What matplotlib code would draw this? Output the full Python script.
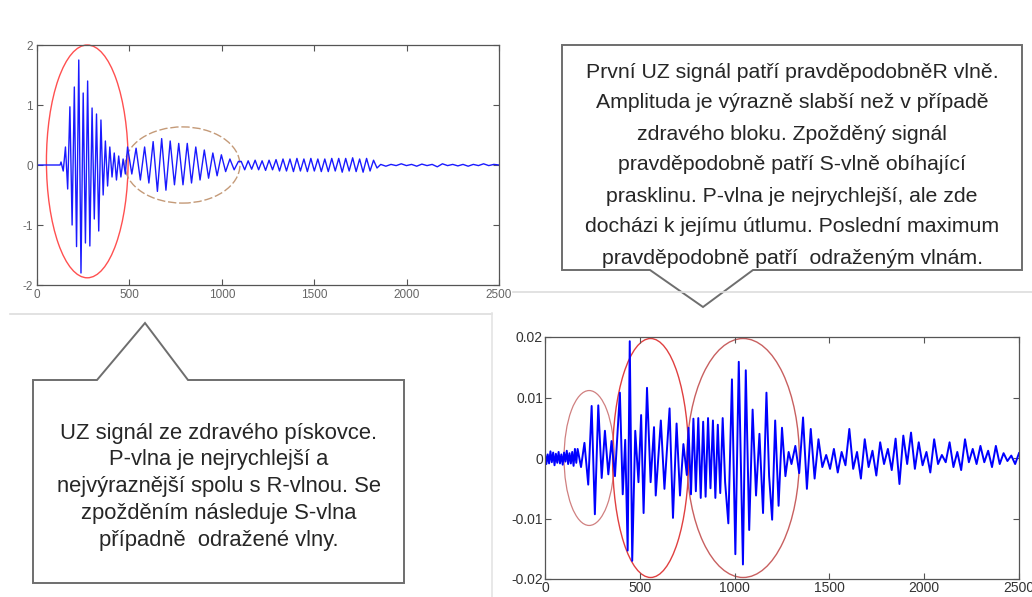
import numpy as np
import matplotlib
matplotlib.use("Agg")
from matplotlib import pyplot as plt
from matplotlib.patches import Ellipse, Polygon

plt.rcParams['font.family'] = ['Liberation Sans', 'DejaVu Sans']
plt.rcParams['axes.unicode_minus'] = False

# --- healthy sandstone signal (top left), extrema ---
top_flat_t = [0, 125]
top_flat_v = [0.0, 0.0]

top_p_t = (130, 478)
top_p_v = [0.05, -0.1, 0.3, -0.4, 0.97, -1.0, 1.3, -1.36, 1.75, -1.8,
           1.2, -1.3, 1.4, -1.35, 0.95, -0.9, 0.85, -1.1, 0.75, -0.5,
           0.4, -0.35, 0.3, -0.2, 0.2, -0.25, 0.15, -0.2, 0.1, -0.15]

top_s_t = (490, 1090)
top_s_v = [0.3, -0.15, 0.28, -0.25, 0.3, -0.3, 0.39, -0.44, 0.44, -0.42,
           0.4, -0.33, 0.36, -0.33, 0.36, -0.3, 0.3, -0.25, 0.25, -0.22,
           0.2, -0.18, 0.17, -0.11, 0.1, -0.08, 0.06]

top_tail_t = (1105, 1840)
top_tail_v = [0.06, -0.08, 0.07, -0.07, 0.08, -0.08, 0.07, -0.09, 0.08, -0.08,
              0.09, -0.1, 0.1, -0.1, 0.1, -0.11, 0.11, -0.1, 0.1, -0.11,
              0.11, -0.1, 0.1, -0.11, 0.1, -0.11, 0.11, -0.1, 0.11, -0.12,
              0.11, -0.1, 0.12, -0.11, 0.1, -0.12, 0.11, -0.1, 0.08, -0.05]

top_end_t = (1860, 2500)
top_end_v = [0.01, -0.02, 0.01, -0.01, 0.02, -0.01, 0.01, -0.02, 0.015, -0.01,
             0.01, -0.03, 0.02, -0.01, 0.01, -0.015, 0.01, -0.02, 0.01, -0.01,
             0.02, -0.01, 0.01, 0.0]

# --- cracked block signal (bottom right), values in 1e-3 ---
bot_noise_t = (0, 165)
bot_noise_v = [0.8, -1.0, 0.6, -0.9, 1.1, -0.7, 0.9, -1.2, 0.7, -0.8,
               1.0, -0.9, 0.6, -1.1, 0.9, -0.6, 1.2, -1.0, 0.8, -0.9,
               1.0, -1.3, 1.5, -0.8]

bot_burst_t = [172, 190, 208, 228, 246, 263, 281, 299, 316, 334, 351, 369,
               395, 410, 423, 436, 447, 460, 476, 493, 507, 520, 538, 557,
               575, 584, 611, 630, 657, 675, 694, 712, 730, 748]
bot_burst_v = [1.5, -1.5, 2.5, -4.4, 8.6, -9.3, 8.7, -3.3, 4.5, -2.7, 2.8, -3.0,
               10.8, -6.0, 3.0, -15.3, 19.3, -17.0, 4.5, -4.0, 7.1, -9.1, 11.6, -4.0,
               5.1, -6.2, 6.2, -5.1, 8.2, -9.9, 5.7, -6.2, 2.3, -2.8]

bot_dense_t = (757, 950)
bot_dense_v = [5.0, -6.0, 6.5, -5.5, 6.6, -6.6, 6.0, -6.4, 6.6, -5.0,
               6.2, -6.6, 5.5, -5.8, 6.6, -4.0]

bot_late_t = [967, 986, 1004, 1022, 1044, 1059, 1077, 1095, 1113, 1131,
              1150, 1168, 1182, 1198, 1214, 1232, 1250, 1268, 1285]
bot_late_v = [-10.8, 13.0, -15.9, 15.9, -17.6, 14.5, -11.9, 8.0, -6.2, 4.0,
              -9.1, 10.8, -3.0, -10.2, 6.2, -7.9, 5.0, -3.0, 1.0]

bot_tail_t = (1300, 2500)
bot_tail_v = [-1.0, 2.0, -2.5, 6.7, -5.1, 4.8, -3.4, 3.1, -1.5, 0.5,
              -1.8, 1.5, -2.4, 1.0, -1.2, 4.8, -1.8, 1.0, -3.4, 3.1,
              -1.5, 1.2, -2.9, 2.6, -1.0, 1.5, -2.0, 3.2, -4.3, 3.7,
              -1.0, 4.2, -1.8, 2.6, -1.2, 1.0, -2.4, 3.1, -1.0, 0.5,
              -0.7, 2.6, -1.5, 1.0, -2.0, 3.1, -0.7, 1.5, -1.0, 2.0,
              -0.7, 1.2, -1.5, 2.0, -1.0, 0.8, -0.5, 0.4, -1.0, 0.8]

xticks = [0, 500, 1000, 1500, 2000, 2500]
top_yticks = [-2, -1, 0, 1, 2]
bot_yticks = [-0.02, -0.01, 0, 0.01, 0.02]
bot_yticklabels = ['-0.02', '-0.01', '0', '0.01', '0.02']

text_right = [
    "První UZ signál patří pravděpodobněR vlně.",
    "Amplituda je výrazně slabší než v případě",
    "zdravého bloku. Zpožděný signál",
    "pravděpodobně patří S-vlně obíhající",
    "prasklinu. P-vlna je nejrychlejší, ale zde",
    "docházi k jejímu útlumu. Poslední maximum",
    "pravděpodobně patří  odraženým vlnám.",
]
text_left = [
    "UZ signál ze zdravého pískovce.",
    "P-vlna je nejrychlejší a",
    "nejvýraznější spolu s R-vlnou. Se",
    "zpožděním následuje S-vlna",
    "případně  odražené vlny.",
]


def join(*parts):
    ts, vs = [], []
    for t, v in parts:
        if isinstance(t, tuple):
            t = np.linspace(t[0], t[1], len(v))
        ts.append(np.asarray(t, float))
        vs.append(np.asarray(v, float))
    return np.concatenate(ts), np.concatenate(vs)


def matlab_axes(ax, fs, color, pad):
    for s in ax.spines.values():
        s.set_color('#555555')
        s.set_linewidth(0.9)
    ax.tick_params(direction='in', length=4, width=0.8, top=True, right=True,
                   labelsize=fs, labelcolor=color, color='#555555', pad=pad)
    ax.set_xlim(0, 2500)
    ax.set_xticks(xticks)


W, H = 1032, 597
fig = plt.figure(figsize=(W / 100, H / 100), dpi=100)

# top left plot
ax1 = fig.add_axes([37 / W, 1 - 285 / H, 462 / W, 240 / H])
t1, v1 = join((top_flat_t, top_flat_v), (top_p_t, top_p_v), (top_s_t, top_s_v),
              (top_tail_t, top_tail_v), (top_end_t, top_end_v))
ax1.plot(t1, v1, color='#1a1aff', lw=1.0)
ax1.set_ylim(-2, 2)
ax1.set_yticks(top_yticks)
matlab_axes(ax1, 8.5, '#666666', 3)
ax1.add_patch(Ellipse((272, 0.06), 442, 3.88, fill=False, ec='#ff5050', lw=1.0, clip_on=False))
ax1.add_patch(Ellipse((787, 0.0), 622, 1.27, fill=False, ec='#c49a78', lw=1.0, ls=(0, (6, 2))))

# bottom right plot
ax2 = fig.add_axes([545 / W, 1 - 579 / H, 474 / W, 242 / H])
t2, v2 = join((bot_noise_t, bot_noise_v), (bot_burst_t, bot_burst_v), (bot_dense_t, bot_dense_v),
              (bot_late_t, bot_late_v), (bot_tail_t, bot_tail_v))
ax2.plot(t2, v2 * 1e-3, color='#0000ff', lw=1.4)
ax2.set_ylim(-0.02, 0.02)
ax2.set_yticks(bot_yticks)
ax2.set_yticklabels(bot_yticklabels)
matlab_axes(ax2, 10, '#333333', 1.5)
ax2.add_patch(Ellipse((233, 0.0), 265, 0.0223, fill=False, ec='#d08080', lw=0.9))
ax2.add_patch(Ellipse((557, 0.0), 401, 0.0395, fill=False, ec='#e04040', lw=1.0, clip_on=False))
ax2.add_patch(Ellipse((1045, 0.0), 593, 0.0395, fill=False, ec='#c86060', lw=1.0, clip_on=False))

# overlay in pixel coordinates for frames and callouts
ov = fig.add_axes([0, 0, 1, 1], zorder=10)
ov.set_xlim(0, W)
ov.set_ylim(H, 0)
ov.axis('off')
ov.patch.set_alpha(0)

ov.plot([10, 492], [314, 314], color='#dddddd', lw=1.2)
ov.plot([513, W], [292, 292], color='#dddddd', lw=1.2)
ov.plot([492, 492], [313, H], color='#e4e4e4', lw=1.2)

right_box = [(562, 45), (1022, 45), (1022, 270), (753, 270), (703, 307), (650, 270), (562, 270)]
left_box = [(33, 380), (97, 380), (145, 323), (188, 380), (404, 380), (404, 583), (33, 583)]
for pts in (right_box, left_box):
    ov.add_patch(Polygon(pts, closed=True, fc='white', ec='#6e6e6e', lw=1.4))

for i, line in enumerate(text_right):
    ov.text(792, 72 + i * 31, line, ha='center', va='center', fontsize=15.3, color='#262626')
for i, line in enumerate(text_left):
    ov.text(219, 433 + i * 26.8, line, ha='center', va='center', fontsize=15.8, color='#262626')

fig.savefig('out.png', dpi=100)
